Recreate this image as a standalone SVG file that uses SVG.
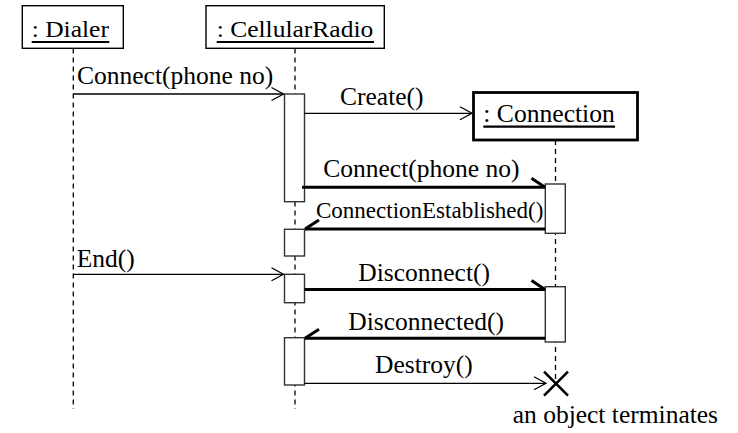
<svg xmlns="http://www.w3.org/2000/svg" width="738" height="433" viewBox="0 0 738 433">
  <defs>
    <marker id="open" markerUnits="userSpaceOnUse" markerWidth="16" markerHeight="16" viewBox="-14 -8 16 16" refX="0" refY="0" orient="auto">
      <path d="M-12,-6.5 L0,0 L-12,6.5" fill="none" stroke="#000" stroke-width="1.3"/>
    </marker>
    <marker id="halfR" markerUnits="userSpaceOnUse" markerWidth="20" markerHeight="20" viewBox="-16 -12 20 20" refX="0" refY="0" orient="auto">
      <path d="M-13.5,-9 L0,0" fill="none" stroke="#000" stroke-width="3"/>
    </marker>
    <marker id="halfL" markerUnits="userSpaceOnUse" markerWidth="20" markerHeight="20" viewBox="-16 -8 20 20" refX="0" refY="0" orient="auto">
      <path d="M-14,9 L0,0" fill="none" stroke="#000" stroke-width="3"/>
    </marker>
  </defs>

  <rect width="738" height="433" fill="#fff"/>

  <!-- Dialer object and lifeline -->
  <g id="dialer">
    <line x1="73.3" y1="48.5" x2="73.3" y2="409" stroke="#000" stroke-width="1.3" stroke-dasharray="5 4"/>
    <rect x="22.3" y="5.7" width="101" height="42.6" fill="#fff" stroke="#000" stroke-width="1.4"/>
    <text font-family="Liberation Serif" font-size="23" transform="translate(31.7 36.5) scale(1.11 1)">: Dialer</text>
    <line x1="31.7" y1="42" x2="109.3" y2="42" stroke="#000" stroke-width="2.2"/>
  </g>

  <!-- CellularRadio object, lifeline and activations -->
  <g id="cellular-radio">
    <line x1="295" y1="48.5" x2="295" y2="409" stroke="#000" stroke-width="1.3" stroke-dasharray="5 4"/>
    <rect x="206" y="5.7" width="178.3" height="42.6" fill="#fff" stroke="#000" stroke-width="1.4"/>
    <text font-family="Liberation Serif" font-size="23" transform="translate(216.7 36.5) scale(1.11 1)">: CellularRadio</text>
    <line x1="216.7" y1="42" x2="374" y2="42" stroke="#000" stroke-width="2.2"/>
    <g fill="#fff" stroke="#333" stroke-width="1.4">
      <rect x="284.5" y="94" width="20" height="107.7"/>
      <rect x="284.5" y="229.3" width="20" height="26.7"/>
      <rect x="284.5" y="274.3" width="20" height="28.4"/>
      <rect x="284.5" y="337.7" width="20" height="47.3"/>
    </g>
  </g>

  <!-- Connection object, created and destroyed by CellularRadio -->
  <g id="connection">
    <line x1="555.5" y1="140" x2="555.5" y2="383" stroke="#000" stroke-width="1.3" stroke-dasharray="5 4"/>
    <rect x="473.5" y="92.5" width="164" height="47.5" fill="#fff" stroke="#000" stroke-width="2.8"/>
    <text font-family="Liberation Serif" font-size="25.6" x="483.3" y="121.7">: Connection</text>
    <line x1="483.3" y1="126.7" x2="615" y2="126.7" stroke="#000" stroke-width="2.2"/>
    <g fill="#fff" stroke="#333" stroke-width="1.4">
      <rect x="545.3" y="184" width="20" height="49.3"/>
      <rect x="545.3" y="286.7" width="20" height="55.3"/>
    </g>
    <path d="M544,371.7 L568,395.7 M568,371.7 L544,395.7" stroke="#000" stroke-width="2.6" fill="none"/>
    <text font-family="Liberation Serif" font-size="25.5" x="512.7" y="423.3">an object terminates</text>
  </g>

  <!-- Messages: thin lines are calls, thick lines are synchronous exchanges -->
  <g id="messages">
    <g stroke="#000" stroke-width="1.3" fill="none">
      <line x1="73.3" y1="94" x2="283.5" y2="94" marker-end="url(#open)"/>
      <line x1="304.5" y1="113.3" x2="472" y2="113.3" marker-end="url(#open)"/>
      <line x1="73.3" y1="274.3" x2="283.5" y2="274.3" marker-end="url(#open)"/>
      <line x1="304.5" y1="383.3" x2="546" y2="383.3" marker-end="url(#open)"/>
    </g>
    <g stroke="#000" stroke-width="3" fill="none">
      <line x1="302" y1="187.3" x2="545" y2="187.3" marker-end="url(#halfR)"/>
      <line x1="545" y1="229" x2="305" y2="229" marker-end="url(#halfL)"/>
      <line x1="304.5" y1="289.5" x2="545" y2="289.5" marker-end="url(#halfR)"/>
      <line x1="545" y1="338.3" x2="305" y2="338.3" marker-end="url(#halfL)"/>
    </g>
    <text font-family="Liberation Serif" font-size="25.5" x="77" y="84">Connect(phone no)</text>
    <text font-family="Liberation Serif" font-size="25.5" x="340" y="105">Create()</text>
    <text font-family="Liberation Serif" font-size="25.5" x="323.3" y="177">Connect(phone no)</text>
    <text font-family="Liberation Serif" font-size="23" x="316" y="217.5">ConnectionEstablished()</text>
    <text font-family="Liberation Serif" font-size="25.5" x="76.7" y="267">End()</text>
    <text font-family="Liberation Serif" font-size="25.5" x="358.3" y="281">Disconnect()</text>
    <text font-family="Liberation Serif" font-size="25.5" x="348.3" y="330">Disconnected()</text>
    <text font-family="Liberation Serif" font-size="25.5" x="375" y="373.3">Destroy()</text>
  </g>
</svg>
